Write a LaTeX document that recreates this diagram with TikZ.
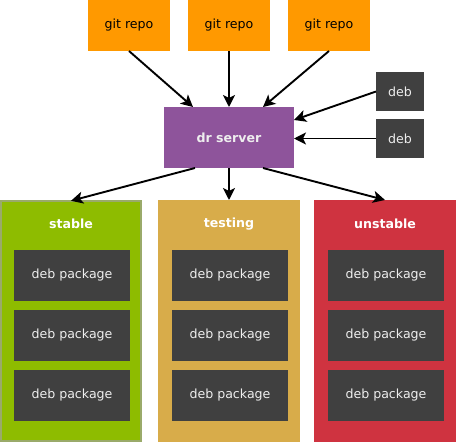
\documentclass[tikz,border=0pt]{standalone}
\usepackage{fontspec}
\setmainfont{DejaVu Sans}
\usetikzlibrary{arrows.meta}
\definecolor{repoorange}{RGB}{255,153,0}
\definecolor{srvpurple}{RGB}{142,84,155}
\definecolor{darkbox}{RGB}{64,64,64}
\definecolor{stablegreen}{RGB}{142,188,0}
\definecolor{stableedge}{RGB}{154,170,106}
\definecolor{testtan}{RGB}{216,172,74}
\definecolor{unstred}{RGB}{207,51,64}
\definecolor{lighttext}{RGB}{238,238,238}
\begin{document}
\begin{tikzpicture}[x=1pt,y=-1pt,
  every node/.style={inner sep=0pt, outer sep=0pt, font=\fontsize{12.6}{14}\selectfont},
  repo/.style={fill=repoorange, minimum width=82pt, minimum height=51pt, text=black},
  debbox/.style={fill=darkbox, minimum width=48pt, minimum height=39pt, text=lighttext},
  server/.style={fill=srvpurple, minimum width=130pt, minimum height=61pt, text=lighttext, font=\fontsize{12.6}{14}\selectfont\bfseries},
  panel/.style={minimum width=142pt, minimum height=242pt},
  pkg/.style={fill=darkbox, minimum width=116pt, minimum height=51pt, text=lighttext},
  ptitle/.style={text=white, font=\fontsize{12.6}{14}\selectfont\bfseries},
  conn/.style={-{Stealth[length=12pt,width=12pt,inset=3pt]}, line width=1.9pt, black}
]
\useasboundingbox (0,0) rectangle (456,442);
% git repos
\node[repo] (r1) at (129,25.5) {git repo};
\node[repo] (r2) at (229,25.5) {git repo};
\node[repo] (r3) at (329,25.5) {git repo};
% debs
\node[debbox] (d1) at (400,91.5) {deb};
\node[debbox] (d2) at (400,138.5) {deb};
% server
\node[server] (srv) at (229,137.5) {dr server};
% panels
\node[panel, fill=stablegreen, draw=stableedge, line width=1.6pt, minimum width=140.4pt, minimum height=240.4pt] (ps) at (71,321) {};
\node[panel, fill=testtan] (pt) at (229,321) {};
\node[panel, fill=unstred] (pu) at (385,321) {};
\node[ptitle] at (71,224) (ts) {stable};
\node[ptitle] at (229,224) (tt) {testing};
\node[ptitle] at (385,224) (tu) {unstable};
% packages
\foreach \c/\n in {72/s,230/t,386/u}{
  \node[pkg] (\n1) at (\c,275) {deb package};
  \node[pkg] (\n2) at (\c,335.5) {deb package};
  \node[pkg] (\n3) at (\c,395.5) {deb package};
}
% connectors
\coordinate (sn1) at (193,107);
\coordinate (sn3) at (263,107);
\coordinate (se1) at (294,120);
\coordinate (sb1) at (195,168);
\coordinate (sb3) at (263,168);
\draw[conn] (r1.south) -- (sn1);
\draw[conn] (r2.south) -- (srv.north);
\draw[conn] (r3.south) -- (sn3);
\draw[conn] (d1.west) -- (se1);
\draw[conn] (d2.west) -- (srv.east |- d2.west);
\draw[conn] (sb1) -- (ps.north);
\draw[conn] (srv.south) -- (pt.north);
\draw[conn] (sb3) -- (pu.north);
\end{tikzpicture}
\end{document}
